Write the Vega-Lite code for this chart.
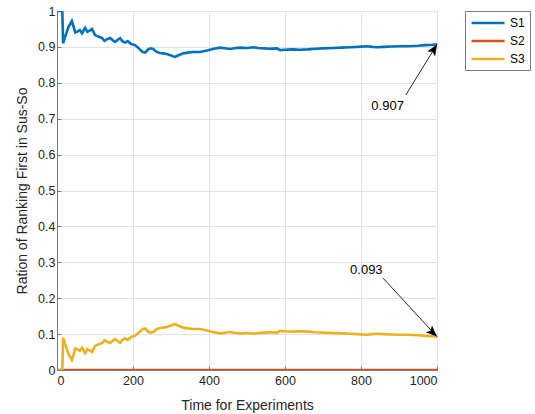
{
  "$schema": "https://vega.github.io/schema/vega-lite/v6.json",
  "autosize": {"type": "none"},
  "width": 380,
  "height": 359,
  "padding": {"left": 57, "top": 11, "right": 98, "bottom": 44},
  "background": "white",
  "config": {
    "font": "Liberation Sans",
    "view": {"stroke": "#7a7a7a", "strokeWidth": 1},
    "axis": {
      "domainColor": "#7a7a7a",
      "tickColor": "#7a7a7a",
      "gridColor": "#e3e3e3",
      "labelColor": "#262626",
      "titleColor": "#262626",
      "labelFont": "Liberation Sans",
      "titleFont": "Liberation Sans",
      "labelFontSize": 12.5,
      "titleFontSize": 14,
      "titleFontWeight": "normal",
      "tickSize": -4,
      "labelPadding": 6,
      "labelOverlap": false
    },
    "axisX": {"labelPadding": 8, "titlePadding": 12},
    "axisY": {"titlePadding": 8}
  },
  "datasets": {
    "series": [
      {"x": 1, "S1": 1.0, "S2": 0, "S3": 0.0},
      {"x": 14, "S1": 1.0, "S2": 0, "S3": 0.0},
      {"x": 16, "S1": 0.91, "S2": 0, "S3": 0.09},
      {"x": 22, "S1": 0.93, "S2": 0, "S3": 0.07},
      {"x": 30, "S1": 0.955, "S2": 0, "S3": 0.045},
      {"x": 39, "S1": 0.972, "S2": 0, "S3": 0.028},
      {"x": 44, "S1": 0.955, "S2": 0, "S3": 0.045},
      {"x": 48, "S1": 0.94, "S2": 0, "S3": 0.06},
      {"x": 55, "S1": 0.943, "S2": 0, "S3": 0.057},
      {"x": 60, "S1": 0.947, "S2": 0, "S3": 0.053},
      {"x": 66, "S1": 0.938, "S2": 0, "S3": 0.062},
      {"x": 74, "S1": 0.953, "S2": 0, "S3": 0.047},
      {"x": 80, "S1": 0.942, "S2": 0, "S3": 0.058},
      {"x": 86, "S1": 0.945, "S2": 0, "S3": 0.055},
      {"x": 92, "S1": 0.95, "S2": 0, "S3": 0.05},
      {"x": 100, "S1": 0.933, "S2": 0, "S3": 0.067},
      {"x": 110, "S1": 0.928, "S2": 0, "S3": 0.072},
      {"x": 118, "S1": 0.925, "S2": 0, "S3": 0.075},
      {"x": 125, "S1": 0.917, "S2": 0, "S3": 0.083},
      {"x": 133, "S1": 0.922, "S2": 0, "S3": 0.078},
      {"x": 140, "S1": 0.925, "S2": 0, "S3": 0.075},
      {"x": 147, "S1": 0.918, "S2": 0, "S3": 0.082},
      {"x": 153, "S1": 0.914, "S2": 0, "S3": 0.086},
      {"x": 160, "S1": 0.92, "S2": 0, "S3": 0.08},
      {"x": 166, "S1": 0.924, "S2": 0, "S3": 0.076},
      {"x": 172, "S1": 0.916, "S2": 0, "S3": 0.084},
      {"x": 179, "S1": 0.912, "S2": 0, "S3": 0.088},
      {"x": 186, "S1": 0.916, "S2": 0, "S3": 0.084},
      {"x": 195, "S1": 0.908, "S2": 0, "S3": 0.092},
      {"x": 205, "S1": 0.905, "S2": 0, "S3": 0.095},
      {"x": 212, "S1": 0.899, "S2": 0, "S3": 0.101},
      {"x": 218, "S1": 0.893, "S2": 0, "S3": 0.107},
      {"x": 225, "S1": 0.886, "S2": 0, "S3": 0.114},
      {"x": 232, "S1": 0.884, "S2": 0, "S3": 0.116},
      {"x": 240, "S1": 0.893, "S2": 0, "S3": 0.107},
      {"x": 246, "S1": 0.896, "S2": 0, "S3": 0.104},
      {"x": 253, "S1": 0.894, "S2": 0, "S3": 0.106},
      {"x": 262, "S1": 0.886, "S2": 0, "S3": 0.114},
      {"x": 271, "S1": 0.883, "S2": 0, "S3": 0.117},
      {"x": 280, "S1": 0.882, "S2": 0, "S3": 0.118},
      {"x": 289, "S1": 0.88, "S2": 0, "S3": 0.12},
      {"x": 298, "S1": 0.877, "S2": 0, "S3": 0.123},
      {"x": 305, "S1": 0.874, "S2": 0, "S3": 0.126},
      {"x": 311, "S1": 0.872, "S2": 0, "S3": 0.128},
      {"x": 318, "S1": 0.876, "S2": 0, "S3": 0.124},
      {"x": 325, "S1": 0.879, "S2": 0, "S3": 0.121},
      {"x": 332, "S1": 0.882, "S2": 0, "S3": 0.118},
      {"x": 345, "S1": 0.884, "S2": 0, "S3": 0.116},
      {"x": 358, "S1": 0.886, "S2": 0, "S3": 0.114},
      {"x": 376, "S1": 0.886, "S2": 0, "S3": 0.114},
      {"x": 395, "S1": 0.89, "S2": 0, "S3": 0.11},
      {"x": 410, "S1": 0.894, "S2": 0, "S3": 0.106},
      {"x": 429, "S1": 0.898, "S2": 0, "S3": 0.102},
      {"x": 442, "S1": 0.896, "S2": 0, "S3": 0.104},
      {"x": 455, "S1": 0.894, "S2": 0, "S3": 0.106},
      {"x": 470, "S1": 0.897, "S2": 0, "S3": 0.103},
      {"x": 482, "S1": 0.898, "S2": 0, "S3": 0.102},
      {"x": 500, "S1": 0.897, "S2": 0, "S3": 0.103},
      {"x": 516, "S1": 0.899, "S2": 0, "S3": 0.101},
      {"x": 530, "S1": 0.897, "S2": 0, "S3": 0.103},
      {"x": 545, "S1": 0.896, "S2": 0, "S3": 0.104},
      {"x": 560, "S1": 0.895, "S2": 0, "S3": 0.105},
      {"x": 579, "S1": 0.896, "S2": 0, "S3": 0.104},
      {"x": 587, "S1": 0.891, "S2": 0, "S3": 0.109},
      {"x": 600, "S1": 0.892, "S2": 0, "S3": 0.108},
      {"x": 620, "S1": 0.893, "S2": 0, "S3": 0.107},
      {"x": 639, "S1": 0.892, "S2": 0, "S3": 0.108},
      {"x": 660, "S1": 0.893, "S2": 0, "S3": 0.107},
      {"x": 680, "S1": 0.895, "S2": 0, "S3": 0.105},
      {"x": 700, "S1": 0.896, "S2": 0, "S3": 0.104},
      {"x": 726, "S1": 0.897, "S2": 0, "S3": 0.103},
      {"x": 750, "S1": 0.898, "S2": 0, "S3": 0.102},
      {"x": 770, "S1": 0.899, "S2": 0, "S3": 0.101},
      {"x": 790, "S1": 0.9, "S2": 0, "S3": 0.1},
      {"x": 816, "S1": 0.902, "S2": 0, "S3": 0.098},
      {"x": 830, "S1": 0.9, "S2": 0, "S3": 0.1},
      {"x": 842, "S1": 0.899, "S2": 0, "S3": 0.101},
      {"x": 860, "S1": 0.9, "S2": 0, "S3": 0.1},
      {"x": 880, "S1": 0.901, "S2": 0, "S3": 0.099},
      {"x": 903, "S1": 0.902, "S2": 0, "S3": 0.098},
      {"x": 925, "S1": 0.902, "S2": 0, "S3": 0.098},
      {"x": 950, "S1": 0.903, "S2": 0, "S3": 0.097},
      {"x": 970, "S1": 0.905, "S2": 0, "S3": 0.095},
      {"x": 989, "S1": 0.906, "S2": 0, "S3": 0.094},
      {"x": 1000, "S1": 0.907, "S2": 0, "S3": 0.093}
    ],
    "notes": [
      {"label": "0.907", "x0": 918, "y0": 0.766, "x1": 1000, "y1": 0.907, "tx": 870, "ty": 0.735},
      {"label": "0.093", "x0": 858, "y0": 0.256, "x1": 1000, "y1": 0.093, "tx": 814, "ty": 0.279}
    ]
  },
  "layer": [
    {
      "data": {"name": "series"},
      "transform": [{"fold": ["S1", "S2", "S3"], "as": ["series", "value"]}],
      "mark": {"type": "line", "strokeWidth": 2.6, "clip": true},
      "encoding": {
        "x": {
          "field": "x", "type": "quantitative",
          "scale": {"domain": [0, 1000], "nice": false},
          "axis": {"values": [0, 200, 400, 600, 800, 1000], "format": "d", "title": "Time for Experiments"}
        },
        "y": {
          "field": "value", "type": "quantitative",
          "scale": {"domain": [0, 1], "nice": false},
          "axis": {"values": [0, 0.1, 0.2, 0.3, 0.4, 0.5, 0.6, 0.7, 0.8, 0.9, 1], "format": ".1~f", "title": "Ration of Ranking First in Sus-So"}
        },
        "color": {
          "field": "series", "type": "nominal",
          "scale": {"domain": ["S1", "S2", "S3"], "range": ["#0072BD", "#D95319", "#EDB120"]},
          "legend": {
            "title": null,
            "orient": "none",
            "legendX": 408,
            "legendY": 0,
            "symbolType": "M-1,0H5",
            "symbolSize": 121,
            "symbolStrokeWidth": 2.6,
            "labelFontSize": 12,
            "labelColor": "#000000",
            "labelOffset": 26,
            "strokeColor": "#7a7a7a",
            "fillColor": "white",
            "padding": 5,
            "rowPadding": 5,
            "cornerRadius": 0
          }
        },
        "order": {"field": "x", "type": "quantitative"}
      }
    },
    {
      "data": {"name": "notes"},
      "mark": {"type": "rule", "color": "#262626", "strokeWidth": 1},
      "encoding": {
        "x": {"field": "x0", "type": "quantitative", "axis": {"values": [0, 200, 400, 600, 800, 1000], "format": "d", "title": "Time for Experiments"}},
        "y": {"field": "y0", "type": "quantitative", "axis": {"values": [0, 0.1, 0.2, 0.3, 0.4, 0.5, 0.6, 0.7, 0.8, 0.9, 1], "format": ".1~f", "title": "Ration of Ranking First in Sus-So"}},
        "x2": {"field": "x1"},
        "y2": {"field": "y1"}
      }
    },
    {
      "data": {"name": "notes"},
      "transform": [{"filter": "datum.label == '0.907'"}],
      "mark": {"type": "point", "shape": "M0,0L-0.45,1.1L0,0.85L0.45,1.1Z", "filled": true, "color": "#000000", "size": 420, "angle": 31.3, "opacity": 1},
      "encoding": {
        "x": {"field": "x1", "type": "quantitative", "axis": {"values": [0, 200, 400, 600, 800, 1000], "format": "d", "title": "Time for Experiments"}},
        "y": {"field": "y1", "type": "quantitative", "axis": {"values": [0, 0.1, 0.2, 0.3, 0.4, 0.5, 0.6, 0.7, 0.8, 0.9, 1], "format": ".1~f", "title": "Ration of Ranking First in Sus-So"}}
      }
    },
    {
      "data": {"name": "notes"},
      "transform": [{"filter": "datum.label == '0.093'"}],
      "mark": {"type": "point", "shape": "M0,0L-0.45,1.1L0,0.85L0.45,1.1Z", "filled": true, "color": "#000000", "size": 420, "angle": 133.3, "opacity": 1},
      "encoding": {
        "x": {"field": "x1", "type": "quantitative", "axis": {"values": [0, 200, 400, 600, 800, 1000], "format": "d", "title": "Time for Experiments"}},
        "y": {"field": "y1", "type": "quantitative", "axis": {"values": [0, 0.1, 0.2, 0.3, 0.4, 0.5, 0.6, 0.7, 0.8, 0.9, 1], "format": ".1~f", "title": "Ration of Ranking First in Sus-So"}}
      }
    },
    {
      "data": {"name": "notes"},
      "mark": {"type": "text", "fontSize": 13, "color": "#000000", "align": "center", "baseline": "middle", "font": "Liberation Sans"},
      "encoding": {
        "x": {"field": "tx", "type": "quantitative", "axis": {"values": [0, 200, 400, 600, 800, 1000], "format": "d", "title": "Time for Experiments"}},
        "y": {"field": "ty", "type": "quantitative", "axis": {"values": [0, 0.1, 0.2, 0.3, 0.4, 0.5, 0.6, 0.7, 0.8, 0.9, 1], "format": ".1~f", "title": "Ration of Ranking First in Sus-So"}},
        "text": {"field": "label"}
      }
    }
  ]
}
